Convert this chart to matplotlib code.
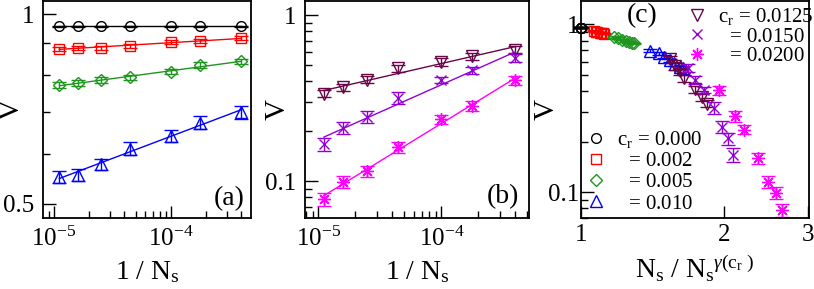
import numpy as np
import matplotlib
matplotlib.use('Agg')
import matplotlib.pyplot as plt
from matplotlib.ticker import LogLocator, LogFormatterMathtext, NullFormatter, NullLocator

plt.rcParams['font.family'] = ['Liberation Serif', 'DejaVu Serif']
plt.rcParams['mathtext.fontset'] = 'custom'
plt.rcParams['mathtext.rm'] = 'Liberation Serif'
plt.rcParams['mathtext.it'] = 'Liberation Serif:italic'
plt.rcParams['axes.unicode_minus'] = False

# system sizes (same for every c_r)
ns = [90000, 62500, 40000, 22500, 10000, 5625, 2500]

# V for each c_r, in the order of ns
v_000 = [0.957, 0.957, 0.957, 0.957, 0.957, 0.957, 0.957]
v_002 = [0.882, 0.885, 0.885, 0.891, 0.903, 0.907, 0.917]
v_005 = [0.772, 0.778, 0.786, 0.794, 0.811, 0.830, 0.842]
v_010 = [0.552, 0.556, 0.578, 0.612, 0.641, 0.673, 0.699]
v_0125 = [0.337, 0.367, 0.410, 0.478, 0.524, 0.566, 0.621]
v_0150 = [0.167, 0.209, 0.244, 0.319, 0.406, 0.466, 0.553]
v_0200 = [0.078, 0.099, 0.115, 0.160, 0.236, 0.283, 0.406]

# error bars
e_000 = [0.003, 0.003, 0.003, 0.003, 0.003, 0.003, 0.003]
e_002 = [0.007, 0.007, 0.007, 0.007, 0.007, 0.007, 0.008]
e_005 = [0.008, 0.008, 0.008, 0.008, 0.008, 0.009, 0.009]
e_010 = [0.012, 0.013, 0.012, 0.014, 0.014, 0.016, 0.017]
e_0125 = [0.017, 0.018, 0.020, 0.024, 0.026, 0.028, 0.031]
e_0150 = [0.016, 0.017, 0.020, 0.026, 0.018, 0.025, 0.030]
e_0200 = [0.007, 0.008, 0.009, 0.012, 0.015, 0.020, 0.026]

# rescaled abscissa N_s / N_s^gamma(c_r) of panel (c)
x_000 = [1.0, 1.0, 1.0, 1.0, 1.0, 1.0, 1.0]
x_002 = [1.120, 1.112, 1.104, 1.094, 1.083, 1.073, 1.065]
x_005 = [1.295, 1.280, 1.265, 1.245, 1.220, 1.195, 1.175]
x_010 = [1.640, 1.618, 1.579, 1.542, 1.493, 1.457, 1.399]
x_0125 = [1.842, 1.797, 1.740, 1.644, 1.618, 1.579, 1.542]
x_0150 = [2.086, 2.040, 1.981, 1.909, 1.811, 1.740, 1.682]
x_0200 = [2.650, 2.573, 2.476, 2.354, 2.199, 2.113, 1.955]

inv_ns = 1.0 / np.array(ns)

SP = r'$\hspace{0.75}$'
# series style: (values, errors, rescaled x, colour, marker, size, label)
series_a = [
    (v_000, e_000, x_000, 'black', 'o', 7, r'c$_\mathregular{r}$ = 0.000'),
    (v_002, e_002, x_002, 'red', 's', 7, SP + '= 0.002'),
    (v_005, e_005, x_005, '#1e961e', 'D', 6, SP + '= 0.005'),
    (v_010, e_010, x_010, 'blue', '^', 8, SP + '= 0.010'),
]
series_b = [
    (v_0125, e_0125, x_0125, '#670748', 'v', 8, r'c$_\mathregular{r}$ = 0.0125'),
    (v_0150, e_0150, x_0150, '#9400d3', 'x', 7, SP + '= 0.0150'),
    (v_0200, e_0200, x_0200, '#ff00ff', (8, 2, 0), 9, SP + '= 0.0200'),
]

W, H = 814, 289
fig = plt.figure(figsize=(W / 100, H / 100), dpi=100)


def box(x0, x1, y0, y1):
    return [x0 / W, 1 - y1 / H, (x1 - x0) / W, (y1 - y0) / H]


ax_a = fig.add_axes(box(43, 251, 0.5, 218))
ax_b = fig.add_axes(box(305, 529, 0.5, 218))
ax_c = fig.add_axes(box(581, 809, 0.5, 218))


def draw(ax, v, e, x, c, m, ms, fit=True):
    cont = ax.errorbar(x, v, yerr=e, fmt='none', ecolor=c, elinewidth=1.0,
                       capsize=5, capthick=1.0)
    line, = ax.plot(x, v, ls='none', marker=m, ms=ms, mfc='none', mec=c, mew=1.0)
    if fit:
        p = np.polyfit(np.log(x), np.log(v), 1)
        xx = np.array([min(x), max(x)])
        ax.plot(xx, np.exp(np.polyval(p, np.log(xx))), color=c, lw=1.0)
    return cont, line


for v, e, x, c, m, ms, lab in series_a:
    draw(ax_a, v, e, inv_ns, c, m, ms)
for v, e, x, c, m, ms, lab in series_b:
    draw(ax_b, v, e, inv_ns, c, m, ms)

handles_a, handles_b = [], []
for v, e, x, c, m, ms, lab in series_a:
    cont, line = draw(ax_c, v, e, x, c, m, ms, fit=False)
    for art in list(cont.get_children()) + [line]:
        art.set_clip_on(False)
    handles_a.append(line)
for v, e, x, c, m, ms, lab in series_b:
    cont, line = draw(ax_c, v, e, x, c, m, ms, fit=False)
    handles_b.append(line)

for ax in (ax_a, ax_b, ax_c):
    ax.set_xscale('log')
    ax.set_yscale('log')
    for s in ax.spines.values():
        s.set_linewidth(1.3)
    ax.tick_params(which='both', direction='in', top=False, right=False,
                   labelsize=18, width=1.0)
    ax.tick_params(which='major', length=9, pad=6)
    ax.tick_params(which='minor', length=5)
    ax.yaxis.set_minor_formatter(NullFormatter())
    ax.set_ylabel('V', fontsize=21)

for ax in (ax_a, ax_b):
    ax.xaxis.set_major_locator(LogLocator(base=10, numticks=10))
    ax.xaxis.set_major_formatter(LogFormatterMathtext())
    ax.xaxis.set_minor_locator(LogLocator(base=10, subs=np.arange(2, 10), numticks=20))
    ax.xaxis.set_minor_formatter(NullFormatter())
    ax.set_xlabel(r'1 / N$_\mathregular{s}$', fontsize=20, labelpad=6)

ax_a.set_xlim(8.05e-6, 4.83e-4)
ax_a.set_ylim(0.475, 1.052)
ax_a.set_yticks([0.5, 1], ['0.5', '1'])
ax_a.set_yticks([0.6, 0.7, 0.8, 0.9], minor=True)
ax_a.yaxis.set_label_coords(-0.087, 0.5)
ax_a.text(0.895, 0.09, '(a)', transform=ax_a.transAxes, fontsize=20,
          ha='center', va='center')

ax_b.set_xlim(7.8e-6, 5.16e-4)
ax_b.set_ylim(0.0598, 1.23)
ax_b.set_yticks([0.1, 1], ['0.1', '1'])
ax_b.set_yticks([0.07, 0.08, 0.09, 0.2, 0.3, 0.4, 0.5, 0.6, 0.7, 0.8, 0.9], minor=True)
ax_b.yaxis.set_label_coords(-0.0625, 0.5)
ax_b.text(0.884, 0.10, '(b)', transform=ax_b.transAxes, fontsize=20,
          ha='center', va='center')

ax_c.set_xlim(1.0, 3.02)
ax_c.set_ylim(0.070, 1.39)
ax_c.set_xticks([1, 2, 3], ['1', '2', '3'])
ax_c.xaxis.set_minor_locator(NullLocator())
ax_c.set_yticks([0.1, 1], ['0.1', '1'])
ax_c.set_yticks([0.07, 0.08, 0.09, 0.2, 0.3, 0.4, 0.5, 0.6, 0.7, 0.8, 0.9], minor=True)
ax_c.tick_params(axis='y', which='major', pad=1)
ax_c.tick_params(axis='x', which='major', pad=4)
ax_c.yaxis.set_label_coords(-0.092, 0.5)
ax_c.set_xlabel(r'N$_\mathregular{s}$ / N$_\mathregular{s}{}^{\gamma(\mathregular{c_r}\ )}$',
                fontsize=20, labelpad=5)
ax_c.text(0.268, 0.93, '(c)', transform=ax_c.transAxes, fontsize=20,
          ha='center', va='center')

leg_top = ax_c.legend(handles_b, [s[6] for s in series_b], loc='upper left',
                      bbox_to_anchor=(0.463, 0.975), frameon=False, fontsize=15,
                      handlelength=1.0, handletextpad=0.5, labelspacing=0.0,
                      borderpad=0.0, borderaxespad=0.0)
ax_c.add_artist(leg_top)
ax_c.legend(handles_a, [s[6] for s in series_a], loc='lower left',
            bbox_to_anchor=(0.02, 0.02), frameon=False, fontsize=15,
            handlelength=1.0, handletextpad=0.5, labelspacing=0.08,
            borderpad=0.0, borderaxespad=0.0)

fig.savefig('out.png', dpi=100)
